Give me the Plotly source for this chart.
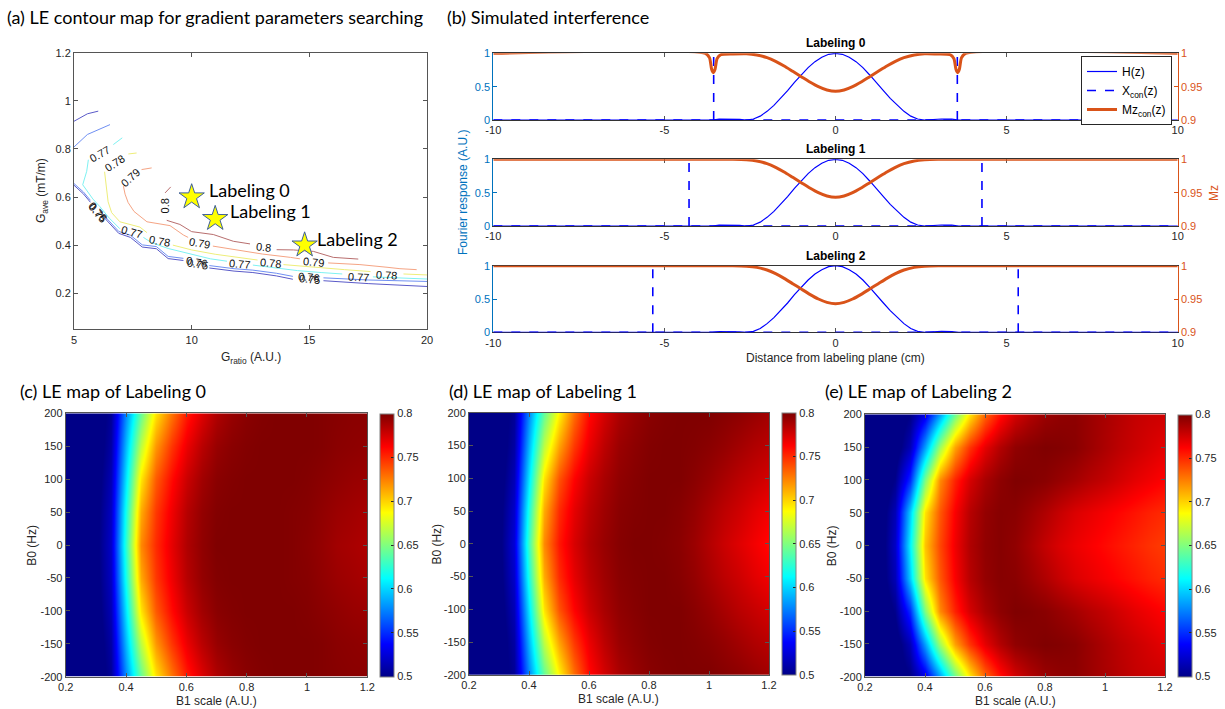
import plotly.graph_objects as go

W, H = 1225, 709


def fx(p):
    return p / W


def fy(p):
    return 1 - p / H


SANS = "Liberation Sans"
TITLE_FAM = "Lato"
INK = "#262626"
BLUE_AX = "#0072BD"
ORANGE = "#D95319"

# ---------------- (a) LE contour lines ----------------
ct_levels = ["0.75", "0.76", "0.77", "0.78", "0.79", "0.8"]
ct_colors = ["#5a5ac8", "#6f8ff2", "#7ef2f2", "#eeee7a", "#f5a484", "#b86e6e"]

c075_x = [5, 5.57, 6.03, None, 5, 5.4, 5.7, None, 6.25, 6.9, 7.4, 7.9, 8.5, 9.0, 9.65, None,
          10.75, 11.8, 12.6, 13.6, 14.3, None, 15.6, 16.0, 17.5, 20]
c075_y = [0.915, 0.946, 0.957, None, 0.649, 0.613, 0.578, None, 0.518, 0.449, 0.432, 0.392, 0.385,
          0.344, 0.336, None, 0.305, 0.292, 0.286, 0.272, 0.258, None, 0.252, 0.249, 0.24, 0.228]
c076_x = [5, 5.57, 6.53, None, 5, 5.4, 5.7, None, 6.25, 6.9, 7.4, 7.9, 8.5, 9.0, 9.65, None,
          10.75, 11.8, 12.6, 13.6, 14.3, None, 15.6, 16.0, 17.5, 20]
c076_y = [0.808, 0.86, 0.901, None, 0.656, 0.621, 0.586, None, 0.526, 0.457, 0.441, 0.401, 0.394,
          0.353, 0.345, None, 0.315, 0.302, 0.296, 0.283, 0.27, None, 0.264, 0.262, 0.255, 0.249]
c077_x = [7.05, 6.67, None, 5.61, 5.54, 5.37, 5.55, 5.8, 6.1, 6.5, 6.95, None, 7.95, 8.3, 9.0, 9.8,
          10.8, 11.5, None, 12.6, 13.6, 14.5, 15.5, 16.4, None, 17.7, 18.5, 20]
c077_y = [0.846, 0.818, None, 0.755, 0.707, 0.651, 0.627, 0.592, 0.56, 0.512, 0.468, None, 0.432,
          0.41, 0.386, 0.366, 0.343, 0.333, None, 0.317, 0.305, 0.294, 0.286, 0.28, None, 0.268,
          0.265, 0.259]
c078_x = [7.66, 7.31, None, 6.3, 6.39, 6.45, 6.6, 6.95, 7.8, 8.1, None, 9.2, 10.0, 11.0, 12.3, 12.8,
          None, 13.9, 15.2, 16.5, 17.6, None, 19.0, 20]
c078_y = [0.783, 0.779, None, 0.705, 0.64, 0.58, 0.535, 0.497, 0.475, 0.452, None, 0.4, 0.38, 0.362,
          0.346, 0.338, None, 0.319, 0.307, 0.298, 0.29, None, 0.28, 0.276]
c079_x = [8.3, 7.87, None, 7.1, 7.17, 7.3, 7.55, 8.1, 9.08, 9.65, 9.85, None, 10.9, 12.05, 13.0,
          14.2, 14.6, None, 15.8, 17.15, 18.3, 18.85, 19.56]
c079_y = [0.721, 0.714, None, 0.645, 0.612, 0.577, 0.54, 0.497, 0.481, 0.442, 0.432, None, 0.396,
          0.378, 0.363, 0.349, 0.343, None, 0.326, 0.319, 0.308, 0.302, 0.298]
c080_x = [9.11, 8.87, None, 8.94, 9.5, 10.0, 10.92, 11.77, 12.48, None, 13.61, 14.32, 15.17, 16.02,
          17.08]
c080_y = [0.642, 0.617, None, 0.503, 0.486, 0.456, 0.444, 0.416, 0.405, None, 0.381, 0.38, 0.374,
          0.349, 0.342]

ct_label_text = ["0.77", "0.78", "0.79", "0.8", "0.76", "0.75", "0.77", "0.78", "0.79", "0.8",
                 "0.76", "0.75", "0.77", "0.78", "0.79", "0.76", "0.75", "0.77", "0.78"]
ct_label_x = [6.1, 6.74, 7.38, 8.87, 5.98, 6.01, 7.45, 8.63, 10.33, 13.05, 10.21, 10.24, 12.05,
              13.36, 15.17, 14.96, 14.99, 17.08, 18.3]
ct_label_y = [0.78, 0.742, 0.679, 0.561, 0.54, 0.533, 0.453, 0.419, 0.408, 0.392, 0.33, 0.322,
              0.321, 0.325, 0.329, 0.266, 0.258, 0.269, 0.276]
ct_label_angle = [-30, -33, -42, -90, 48, 50, 15, 10, 10, 6, 10, 10, 5, 5, 5, 6, 6, 3, 3]

star_names = ["Labeling 0", "Labeling 1", "Labeling 2"]
star_x = [10.0, 11.0, 14.8]
star_y = [0.6, 0.51, 0.4]
star_text_x = [10.66, 11.53, 15.24]
star_text_y = [0.63, 0.54, 0.425]

# ---------------- (b) simulated interference ----------------
z_h = [-10, -3.6, -3.4, -3.1, -2.8, -2.6, -2.4, -2.2, -2.0, -1.8, -1.6, -1.4, -1.2, -1.0, -0.8,
       -0.6, -0.4, -0.2, 0.0, 0.2, 0.4, 0.6, 0.8, 1.0, 1.2, 1.4, 1.6, 1.8, 2.0, 2.2, 2.4, 2.6,
       2.8, 3.1, 3.4, 3.6, 10]
h_vals = [0, 0, 0.012, 0.015, 0.008, 0.0, 0.015, 0.058, 0.13, 0.22, 0.325, 0.44, 0.565, 0.675,
          0.785, 0.875, 0.94, 0.985, 1.0, 0.985, 0.94, 0.875, 0.785, 0.675, 0.565, 0.44, 0.325,
          0.22, 0.13, 0.058, 0.015, 0.0, 0.008, 0.015, 0.012, 0, 0]

z_mz = [-10, -3.0, -2.6, -2.3, -2.0, -1.75, -1.5, -1.25, -1.0, -0.75, -0.5, -0.25, 0, 0.25, 0.5,
        0.75, 1.0, 1.25, 1.5, 1.75, 2.0, 2.3, 2.6, 3.0, 10]
mz_vals = [1.0, 1.0, 0.9993, 0.9975, 0.9935, 0.988, 0.981, 0.973, 0.965, 0.957, 0.95, 0.945, 0.943,
           0.945, 0.95, 0.957, 0.965, 0.973, 0.981, 0.988, 0.9935, 0.9975, 0.9993, 1.0, 1.0]

z_mz0 = [-10, -3.8, -3.68, -3.62, -3.57, -3.52, -3.46, -3.35, -3.0, -2.6, -2.3, -2.0, -1.75, -1.5,
         -1.25, -1.0, -0.75, -0.5, -0.25, 0, 0.25, 0.5, 0.75, 1.0, 1.25, 1.5, 1.75, 2.0, 2.3, 2.6,
         3.0, 3.35, 3.46, 3.52, 3.57, 3.62, 3.68, 3.8, 10]
mz0_vals = [1.0, 1.0, 0.993, 0.976, 0.971, 0.976, 0.992, 0.998, 0.999, 0.9993, 0.9975, 0.9935,
            0.988, 0.981, 0.973, 0.965, 0.957, 0.95, 0.945, 0.943, 0.945, 0.95, 0.957, 0.965,
            0.973, 0.981, 0.988, 0.9935, 0.9975, 0.9993, 0.999, 0.998, 0.992, 0.976, 0.971,
            0.976, 0.993, 1.0, 1.0]

xcon_pos = [3.56, 4.28, 5.34]
row_titles = ["Labeling 0", "Labeling 1", "Labeling 2"]
z_ticks = [-10, -5, 0, 5, 10]
z_ticktext = ["-10", "-5", "0", "5", "10"]

# ---------------- (c)-(e) LE maps (values read on a coarse grid) ----------------
B1_scale = [0.2, 0.25, 0.3, 0.35, 0.4, 0.45, 0.5, 0.55, 0.6, 0.65, 0.7, 0.75, 0.8, 0.85, 0.9,
            0.95, 1.0, 1.05, 1.1, 1.15, 1.2]
B0_hz = [-200, -150, -100, -50, 0, 50, 100, 150, 200]
B0_ticktext = ["-200", "-150", "-100", "-50", "0", "50", "100", "150", "200"]

le0_b0_000 = [0.47, 0.48, 0.495, 0.52, 0.625, 0.722, 0.75, 0.77, 0.786, 0.795, 0.8, 0.8, 0.8, 0.8, 0.8, 0.799, 0.797, 0.794, 0.79, 0.788, 0.786]
le0_b0_050 = [0.47, 0.48, 0.494, 0.518, 0.618, 0.712, 0.746, 0.767, 0.784, 0.794, 0.799, 0.8, 0.8, 0.8, 0.8, 0.799, 0.798, 0.795, 0.792, 0.79, 0.788]
le0_b0_100 = [0.47, 0.48, 0.492, 0.514, 0.605, 0.694, 0.736, 0.76, 0.778, 0.79, 0.797, 0.799, 0.8, 0.8, 0.8, 0.8, 0.799, 0.797, 0.795, 0.793, 0.792]
le0_b0_150 = [0.47, 0.48, 0.49, 0.509, 0.592, 0.668, 0.718, 0.747, 0.768, 0.783, 0.793, 0.797, 0.799, 0.8, 0.8, 0.8, 0.8, 0.799, 0.797, 0.796, 0.795]
le0_b0_200 = [0.47, 0.48, 0.49, 0.505, 0.578, 0.642, 0.695, 0.728, 0.755, 0.772, 0.786, 0.793, 0.797, 0.799, 0.8, 0.8, 0.8, 0.799, 0.798, 0.797, 0.797]

le1_b0_000 = [0.47, 0.48, 0.495, 0.525, 0.632, 0.722, 0.756, 0.774, 0.786, 0.793, 0.798, 0.8, 0.8, 0.799, 0.797, 0.792, 0.785, 0.778, 0.772, 0.766, 0.76]
le1_b0_050 = [0.47, 0.48, 0.494, 0.521, 0.622, 0.712, 0.75, 0.77, 0.783, 0.791, 0.797, 0.799, 0.8, 0.8, 0.798, 0.794, 0.788, 0.782, 0.777, 0.771, 0.766]
le1_b0_100 = [0.47, 0.48, 0.492, 0.515, 0.607, 0.695, 0.738, 0.762, 0.778, 0.788, 0.795, 0.798, 0.8, 0.8, 0.8, 0.797, 0.793, 0.788, 0.783, 0.779, 0.775]
le1_b0_150 = [0.47, 0.48, 0.49, 0.509, 0.592, 0.668, 0.714, 0.746, 0.768, 0.782, 0.792, 0.796, 0.799, 0.8, 0.8, 0.799, 0.797, 0.794, 0.79, 0.786, 0.783]
le1_b0_200 = [0.47, 0.48, 0.49, 0.505, 0.578, 0.642, 0.69, 0.73, 0.76, 0.775, 0.787, 0.793, 0.797, 0.799, 0.8, 0.8, 0.8, 0.798, 0.796, 0.793, 0.79]

le2_b0_000 = [0.47, 0.49, 0.52, 0.61, 0.705, 0.742, 0.767, 0.786, 0.795, 0.798, 0.795, 0.788, 0.78, 0.773, 0.768, 0.764, 0.76, 0.756, 0.752, 0.748, 0.745]
le2_b0_050 = [0.47, 0.49, 0.515, 0.598, 0.695, 0.737, 0.764, 0.784, 0.794, 0.798, 0.797, 0.792, 0.786, 0.779, 0.773, 0.769, 0.765, 0.761, 0.757, 0.753, 0.75]
le2_b0_100 = [0.47, 0.485, 0.502, 0.55, 0.65, 0.722, 0.753, 0.775, 0.788, 0.796, 0.8, 0.799, 0.797, 0.793, 0.789, 0.784, 0.78, 0.775, 0.77, 0.766, 0.762]
le2_b0_150 = [0.47, 0.48, 0.49, 0.515, 0.585, 0.66, 0.715, 0.748, 0.77, 0.785, 0.795, 0.798, 0.8, 0.799, 0.797, 0.792, 0.787, 0.782, 0.778, 0.774, 0.77]
le2_b0_200 = [0.47, 0.48, 0.49, 0.5, 0.53, 0.585, 0.645, 0.695, 0.733, 0.758, 0.775, 0.785, 0.792, 0.795, 0.796, 0.792, 0.788, 0.784, 0.78, 0.778, 0.777]


def full_map(r0, r50, r100, r150, r200):
    # rows ordered as B0_hz (-200 ... 200); the map is symmetric in B0
    return [r200, r150, r100, r50, r0, r50, r100, r150, r200]


le_maps = [
    full_map(le0_b0_000, le0_b0_050, le0_b0_100, le0_b0_150, le0_b0_200),
    full_map(le1_b0_000, le1_b0_050, le1_b0_100, le1_b0_150, le1_b0_200),
    full_map(le2_b0_000, le2_b0_050, le2_b0_100, le2_b0_150, le2_b0_200),
]
cbar_ticks = [0.5, 0.55, 0.6, 0.65, 0.7, 0.75, 0.8]

JET = [[0.0, "rgb(0,0,135)"], [0.125, "rgb(0,0,255)"], [0.375, "rgb(0,255,255)"],
       [0.625, "rgb(255,255,0)"], [0.875, "rgb(255,0,0)"], [1.0, "rgb(128,0,0)"]]

# ---------------- figure ----------------
fig = go.Figure()
TICKFONT = dict(family=SANS, size=11, color=INK)

# (a)
for lvl, xs, ys, col in zip(ct_levels, [c075_x, c076_x, c077_x, c078_x, c079_x, c080_x],
                            [c075_y, c076_y, c077_y, c078_y, c079_y, c080_y], ct_colors):
    fig.add_trace(go.Scatter(x=xs, y=ys, mode="lines", line=dict(color=col, width=1),
                             connectgaps=False, showlegend=False, hoverinfo="skip",
                             xaxis="x", yaxis="y", name=lvl))
fig.add_trace(go.Scatter(x=star_x, y=star_y, mode="markers", showlegend=False,
                         marker=dict(symbol="star", size=19, color="#ffff00",
                                     line=dict(color="#3e5f9a", width=1)),
                         xaxis="x", yaxis="y"))

# (b)
for k in range(3):
    xa = "x%d" % (k + 2)
    yl = "y%d" % (2 * k + 2)
    yr = "y%d" % (2 * k + 3)
    p = xcon_pos[k]
    zz, mm = (z_mz0, mz0_vals) if k == 0 else (z_mz, mz_vals)
    fig.add_trace(go.Scatter(x=z_h, y=h_vals, mode="lines", line=dict(color="#0000ff", width=1.2),
                             name="H(z)", showlegend=(k == 0), xaxis=xa, yaxis=yl,
                             legendrank=1))
    fig.add_trace(go.Scatter(x=[-10, 10, None, -p, -p, None, p, p],
                             y=[0, 0, None, 0, 1, None, 0, 1], mode="lines",
                             line=dict(color="#0000ff", width=1.6, dash="dash"),
                             name="X<sub>con</sub>(z)", showlegend=(k == 0), xaxis=xa, yaxis=yl,
                             legendrank=2))
    fig.add_trace(go.Scatter(x=zz, y=mm, mode="lines",
                             line=dict(color=ORANGE, width=3, shape="spline", smoothing=0.6),
                             name="Mz<sub>con</sub>(z)", showlegend=(k == 0), xaxis=xa, yaxis=yr,
                             legendrank=3))

# (c)-(e)
map_axes = [("x5", "y8"), ("x6", "y9"), ("x7", "y10")]
cbar_left = [380.0, 781.7, 1177.7]
map_top = [413.3, 412.7, 414.3]
map_bot = [676.7, 675.0, 676.7]
for i in range(3):
    fig.add_trace(go.Heatmap(
        x=B1_scale, y=B0_hz, z=le_maps[i], zmin=0.5, zmax=0.8, colorscale=JET,
        zsmooth="best", xaxis=map_axes[i][0], yaxis=map_axes[i][1], hoverinfo="skip",
        colorbar=dict(x=fx(cbar_left[i]), xanchor="left", xref="paper",
                      y=fy((map_top[i] + map_bot[i]) / 2), yanchor="middle", yref="paper",
                      len=map_bot[i] - map_top[i], lenmode="pixels", thickness=14,
                      tickvals=cbar_ticks, ticks="inside", ticklen=3, tickcolor=INK,
                      outlinewidth=1, outlinecolor="#808080", tickfont=TICKFONT, xpad=0,
                      ypad=0)))

axis_base = dict(showline=True, linecolor="#555555", linewidth=1, mirror="ticks", ticks="inside",
                 ticklen=4, tickcolor="#555555", showgrid=False, zeroline=False,
                 tickfont=TICKFONT)

layout = dict(width=W, height=H, margin=dict(l=0, r=0, t=0, b=0, pad=0, autoexpand=False),
              paper_bgcolor="white", plot_bgcolor="white", showlegend=True, hovermode=False)

layout["xaxis"] = dict(axis_base, domain=[fx(74), fx(427)], anchor="y", range=[5, 20],
                       tickvals=[5, 10, 15, 20])
layout["yaxis"] = dict(axis_base, domain=[fy(329.3), fy(52.7)], anchor="x", range=[0.05, 1.2],
                       tickvals=[0.2, 0.4, 0.6, 0.8, 1, 1.2])

row_top = [53.3, 159.3, 265.7]
row_bot = [120.0, 226.0, 332.3]
for k in range(3):
    layout["xaxis%d" % (k + 2)] = dict(axis_base, domain=[fx(493.3), fx(1177.7)],
                                       anchor="y%d" % (2 * k + 2), range=[-10, 10],
                                       tickvals=z_ticks, ticktext=z_ticktext,
                                       linecolor="#333333", layer="below traces")
    layout["yaxis%d" % (2 * k + 2)] = dict(
        showline=True, linecolor=BLUE_AX, linewidth=1, ticks="inside", ticklen=4,
        tickcolor=BLUE_AX, showgrid=False, zeroline=False,
        tickfont=dict(family=SANS, size=11, color=BLUE_AX),
        domain=[fy(row_bot[k]), fy(row_top[k])], anchor="x%d" % (k + 2), range=[0, 1],
        tickvals=[0, 0.5, 1])
    layout["yaxis%d" % (2 * k + 3)] = dict(
        showline=True, linecolor=ORANGE, linewidth=1, ticks="inside", ticklen=4,
        tickcolor=ORANGE, showgrid=False, zeroline=False,
        tickfont=dict(family=SANS, size=11, color=ORANGE),
        overlaying="y%d" % (2 * k + 2), side="right", anchor="x%d" % (k + 2),
        range=[0.9, 1.0], tickvals=[0.9, 0.95, 1])

map_left = [65.7, 469.0, 865.0]
map_right = [367.3, 769.0, 1165.0]
for i in range(3):
    xn = "xaxis%d" % (5 + i)
    yn = "yaxis%d" % (8 + i)
    layout[xn] = dict(axis_base, domain=[fx(map_left[i]), fx(map_right[i])],
                      anchor="y%d" % (8 + i), range=[0.2, 1.2],
                      tickvals=[0.2, 0.4, 0.6, 0.8, 1, 1.2])
    layout[yn] = dict(axis_base, domain=[fy(map_bot[i]), fy(map_top[i])],
                      anchor="x%d" % (5 + i), range=[-200, 200],
                      tickvals=B0_hz, ticktext=B0_ticktext)

layout["legend"] = dict(x=fx(1172), xanchor="right", y=fy(56), yanchor="top", bgcolor="white",
                        bordercolor=INK, borderwidth=1, font=dict(family=SANS, size=12,
                                                                   color="black"),
                        itemwidth=30, tracegroupgap=0, traceorder="normal")


def note(text, xp, yp, size=12, color=INK, angle=0, xanchor="center", family=SANS):
    return dict(text=text, x=fx(xp), y=fy(yp), xref="paper", yref="paper", showarrow=False,
                font=dict(family=family, size=size, color=color), textangle=angle,
                xanchor=xanchor, yanchor="middle")


ann = []
# panel titles
ann.append(note("(a) LE contour map for gradient parameters searching", 5, 17, 18, "black",
                xanchor="left", family=TITLE_FAM))
ann.append(note("(b) Simulated interference", 445, 17, 18, "black", xanchor="left",
                family=TITLE_FAM))
ann.append(note("(c) LE map of Labeling 0", 18, 391, 18, "black", xanchor="left",
                family=TITLE_FAM))
ann.append(note("(d) LE map of Labeling 1", 446.7, 391, 18, "black", xanchor="left",
                family=TITLE_FAM))
ann.append(note("(e) LE map of Labeling 2", 823, 391, 18, "black", xanchor="left",
                family=TITLE_FAM))
# axis titles
ann.append(note("G<sub>ave</sub> (mT/m)", 42, 191, 12, angle=-90))
ann.append(note("G<sub>ratio</sub> (A.U.)", 250.5, 358, 12))
ann.append(note("Fourier response (A.U.)", 463, 193, 12, BLUE_AX, angle=-90))
ann.append(note("Mz", 1214, 193, 12, ORANGE, angle=-90))
ann.append(note("Distance from labeling plane (cm)", 835.5, 358, 12))
for k in range(3):
    ann.append(note("<b>%s</b>" % row_titles[k], 835.5, row_top[k] - 10, 12, "black"))
bx_lab = [31.7, 436.7, 831.7]
for i in range(3):
    ann.append(note("B0 (Hz)", bx_lab[i], (map_top[i] + map_bot[i]) / 2, 12, angle=-90))
    ann.append(note("B1 scale (A.U.)", (map_left[i] + map_right[i]) / 2, map_bot[i] + 24, 12))
# contour labels
for t, x, y, a in zip(ct_label_text, ct_label_x, ct_label_y, ct_label_angle):
    ann.append(dict(text=t, x=x, y=y, xref="x", yref="y", showarrow=False, textangle=a,
                    font=dict(family=SANS, size=11, color="#111111")))
# star labels
for t, x, y in zip(star_names, star_text_x, star_text_y):
    ann.append(dict(text=t, x=x, y=y, xref="x", yref="y", showarrow=False, xanchor="left",
                    yanchor="middle", font=dict(family=TITLE_FAM, size=18, color="black")))

layout["annotations"] = ann
fig.update_layout(**layout)
fig.write_html("out.html", config={"displayModeBar": False},
               post_script="document.body.style.margin='0px';"
                           "document.body.style.overflow='hidden';")
